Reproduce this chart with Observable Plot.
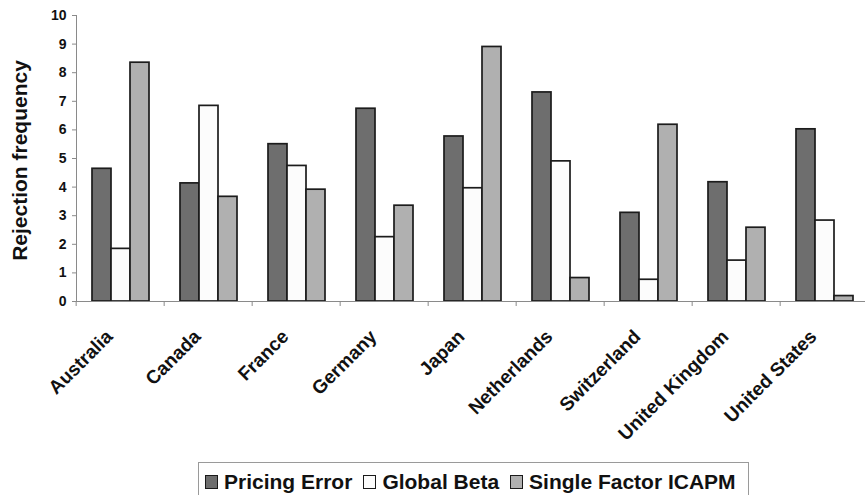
<!DOCTYPE html>
<html>
<head>
<meta charset="utf-8">
<script src="https://cdn.jsdelivr.net/npm/d3@7"></script>
<script src="https://cdn.jsdelivr.net/npm/@observablehq/plot@0.6"></script>
<style>
  html, body { margin: 0; padding: 0; background: #fff; }
  body { width: 865px; height: 495px; overflow: hidden; font-family: "Liberation Sans", Arial, sans-serif; position: relative; }
  #chart svg { display: block; }
  .legend { position: absolute; left: 198px; top: 462px; width: 551px; height: 40px; border: 1px solid #9a9a9a; box-sizing: border-box;
    display: flex; align-items: center; justify-content: flex-start; padding-left: 6px; gap: 11px; font-weight: bold; font-size: 21px; color: #111; background: #fff; white-space: nowrap; }
  .legend .item { display: flex; align-items: center; gap: 6px; }
  .legend .sw { width: 13px; height: 14px; border: 1.5px solid #1a1a1a; box-sizing: border-box; display: inline-block; }
</style>
</head>
<body>
<div id="chart"></div>
<div class="legend" id="legend"></div>
<script>
const countries = ["Australia","Canada","France","Germany","Japan","Netherlands","Switzerland","United Kingdom","United States"];
const seriesNames = ["Pricing Error","Global Beta","Single Factor ICAPM"];
const pricingError = [4.64, 4.13, 5.50, 6.74, 5.77, 7.31, 3.10, 4.17, 6.02];
const globalBeta   = [1.84, 6.84, 4.74, 2.25, 3.96, 4.90, 0.76, 1.43, 2.83];
const singleFactor = [8.35, 3.66, 3.91, 3.35, 8.90, 0.82, 6.18, 2.58, 0.19];
const seriesColors = ["#6e6e6e", "#fcfcfc", "#b0b0b0"];
const yTicks = [0,1,2,3,4,5,6,7,8,9,10];
const yLabel = "Rejection frequency";

const seriesValues = [pricingError, globalBeta, singleFactor];
const data = [];
countries.forEach((c, i) => seriesNames.forEach((s, j) => data.push({country: c, series: s, value: seriesValues[j][i]})));

const W = 865, H = 455, ML = 73, MR = -6, MT = 15, MB = 154;
const halfStep = (W - ML - MR) / countries.length / 2;
const firstFacet = () => countries[0];

const chart = Plot.plot({
  width: W, height: H,
  marginLeft: ML, marginRight: MR, marginTop: MT, marginBottom: MB,
  style: {background: "#fff", fontFamily: "'Liberation Sans', Arial, sans-serif"},
  fx: {domain: countries, padding: 0, axis: null, label: null},
  x: {domain: seriesNames, paddingInner: 0, paddingOuter: 0.74, axis: null},
  y: {domain: [0, 10], axis: null},
  color: {domain: seriesNames, range: seriesColors},
  marks: [
    Plot.barY(data, {fx: "country", x: "series", y: "value", fill: "series", stroke: "#1c1c1c", strokeWidth: 1.7}),
    Plot.ruleY([0], {stroke: "#8a8a8a", strokeWidth: 1}),
    Plot.frame({anchor: "left", stroke: "#8a8a8a", strokeWidth: 1, fx: firstFacet}),
    Plot.axisY({ticks: yTicks, tickSize: 4, tickPadding: 6, stroke: "#8a8a8a", fill: "#111", fontSize: 14, fontWeight: "bold", label: null}),
    Plot.axisFx({anchor: "bottom", tickSize: 5, text: null, dx: -halfStep, stroke: "#8a8a8a", label: null}),
    Plot.axisFx({anchor: "bottom", tickSize: 0, tickRotate: -45, tickPadding: 32, dx: -11, fontSize: 19, fontWeight: "bold", fill: "#111", label: null}),
    Plot.text([yLabel], {frameAnchor: "left", textAnchor: "middle", dx: -56, dy: 2, rotate: -90, fontSize: 21, fontWeight: "bold", fill: "#111", fx: firstFacet})
  ]
});
document.getElementById("chart").appendChild(chart);

const legend = document.getElementById("legend");
seriesNames.forEach((s, j) => {
  const item = document.createElement("span");
  item.className = "item";
  const sw = document.createElement("span");
  sw.className = "sw";
  sw.style.background = seriesColors[j];
  item.appendChild(sw);
  item.appendChild(document.createTextNode(s));
  legend.appendChild(item);
});
</script>
</body>
</html>
